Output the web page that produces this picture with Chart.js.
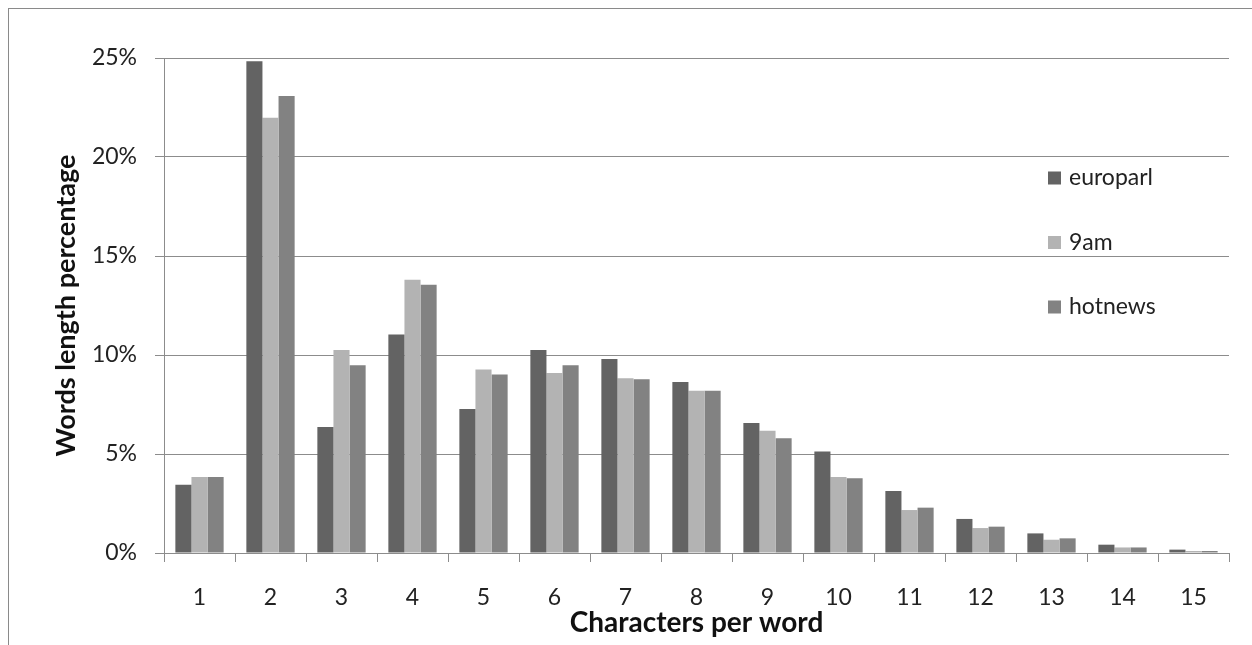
<!DOCTYPE html>
<html>
<head>
<meta charset="utf-8">
<title>Words length percentage</title>
<script src="https://cdn.jsdelivr.net/npm/chart.js@4/dist/chart.umd.min.js"></script>
<style>
  html, body { margin: 0; padding: 0; background: #ffffff; }
  #wrap { position: relative; width: 1252px; height: 645px; overflow: hidden; }
  #frame { position: absolute; left: 8px; top: 8px; right: -4px; bottom: -4px;
           border-top: 1px solid #8a8a8a; border-left: 1px solid #8a8a8a; }
  canvas { position: absolute; left: 0; top: 0; }
</style>
</head>
<body>
<div id="wrap">
  <div id="frame"></div>
  <canvas id="chart" width="1252" height="645"></canvas>
</div>
<script>
// Characters per word (x categories)
const categories = ['1','2','3','4','5','6','7','8','9','10','11','12','13','14','15'];

// Share of words of each length, in percent
const europarl = [3.45, 24.83, 6.36, 11.04, 7.27, 10.25, 9.80, 8.64, 6.57, 5.13, 3.13, 1.72, 0.99, 0.42, 0.17];
const am9      = [3.84, 21.98, 10.25, 13.80, 9.27, 9.09, 8.82, 8.20, 6.18, 3.84, 2.17, 1.26, 0.67, 0.28, 0.10];
const hotnews  = [3.84, 23.08, 9.48, 13.55, 9.02, 9.48, 8.77, 8.20, 5.79, 3.77, 2.29, 1.33, 0.74, 0.28, 0.10];

// Y axis tick values
const yTicks = [0, 5, 10, 15, 20, 25];

const FONT = 'Lato, "Open Sans", sans-serif';
const GRID = '#8c8c8c';
const TEXT = '#222222';

// Legend drawn inside the plot area, stacked with wide spacing
const sideLegend = {
  id: 'sideLegend',
  afterDraw(chart) {
    const ctx = chart.ctx;
    const x0 = 1048, box = 13, y0 = 178, step = 64.5;
    ctx.save();
    ctx.font = '23px ' + FONT;
    ctx.textBaseline = 'middle';
    ctx.textAlign = 'left';
    chart.data.datasets.forEach((ds, i) => {
      const cy = y0 + i * step;
      ctx.fillStyle = ds.backgroundColor;
      ctx.fillRect(x0, cy - box / 2, box, box);
      ctx.fillStyle = TEXT;
      ctx.fillText(ds.label, x0 + 21, cy);
    });
    ctx.restore();
  }
};

new Chart(document.getElementById('chart'), {
  type: 'bar',
  data: {
    labels: categories,
    datasets: [
      { label: 'europarl', data: europarl, backgroundColor: '#636363' },
      { label: '9am',      data: am9,      backgroundColor: '#b3b3b3' },
      { label: 'hotnews',  data: hotnews,  backgroundColor: '#828282' }
    ]
  },
  options: {
    responsive: false,
    animation: false,
    devicePixelRatio: 1,
    layout: { padding: { left: 0, top: 58, right: 23, bottom: 0 } },
    datasets: { bar: { barPercentage: 1.0, categoryPercentage: 0.68, borderWidth: 0 } },
    plugins: {
      legend: { display: false },
      tooltip: { enabled: false }
    },
    scales: {
      x: {
        offset: true,
        grid: { offset: true, drawOnChartArea: false, drawTicks: true, tickLength: 9, color: GRID, lineWidth: 1 },
        border: { color: GRID, width: 1 },
        ticks: { color: TEXT, font: { family: FONT, size: 23 }, padding: 22, maxRotation: 0 },
        title: { display: true, text: 'Characters per word', color: '#111111',
                 font: { family: FONT, size: 28, weight: 'bold' }, padding: { top: 0, bottom: 5 } },
        afterFit(scale) { scale.height = 92; }
      },
      y: {
        min: 0, max: 25,
        afterBuildTicks(scale) { scale.ticks = yTicks.map(v => ({ value: v })); },
        grid: { color: GRID, lineWidth: 1, drawTicks: true, tickLength: 9 },
        border: { color: GRID, width: 1 },
        ticks: { color: TEXT, font: { family: FONT, size: 23 }, padding: 18,
                 callback: v => v + '%' },
        title: { display: true, text: 'Words length percentage', color: '#111111',
                 font: { family: FONT, size: 27, weight: 'bold' }, padding: { top: 50, bottom: 0 } },
        afterFit(scale) { scale.width = 164; }
      }
    }
  },
  plugins: [sideLegend]
});
</script>
</body>
</html>
